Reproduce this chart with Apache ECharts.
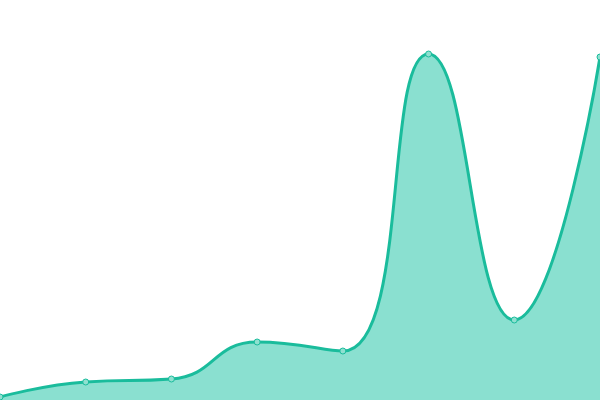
<!DOCTYPE html>
<html lang="en">
<head>
    <meta charset="UTF-8">
    <title>area</title>
    <script src="https://cdn.jsdelivr.net/npm/echarts@6/dist/echarts.min.js"></script>
    <style>
        html, body { margin: 0; padding: 0; background: #fff; }
        #chart { width: 600px; height: 400px; }
    </style>
</head>
<body>
<div id="chart"></div>
<script type="text/javascript">
    var categories = ['1', '2', '3', '4', '5', '6', '7', '8'];
    var values = [3, 18, 21, 58, 49, 346, 80, 343];

    var myChart = echarts.init(document.getElementById('chart'));
    myChart.setOption({
        animation: false,
        grid: { left: 0, right: 0, top: 0, bottom: 0 },
        xAxis: {
            type: 'category',
            data: categories,
            boundaryGap: false,
            show: false
        },
        yAxis: {
            type: 'value',
            min: 0,
            max: 400,
            show: false
        },
        series: [{
            type: 'line',
            data: values,
            smooth: true,
            symbol: 'circle',
            symbolSize: 6,
            itemStyle: { color: '#8fe0d0', borderColor: '#1abc9c', borderWidth: 1 },
            lineStyle: { color: '#1abc9c', width: 3 },
            areaStyle: { color: '#8ae0d0', opacity: 1 }
        }]
    });
</script>
</body>
</html>
